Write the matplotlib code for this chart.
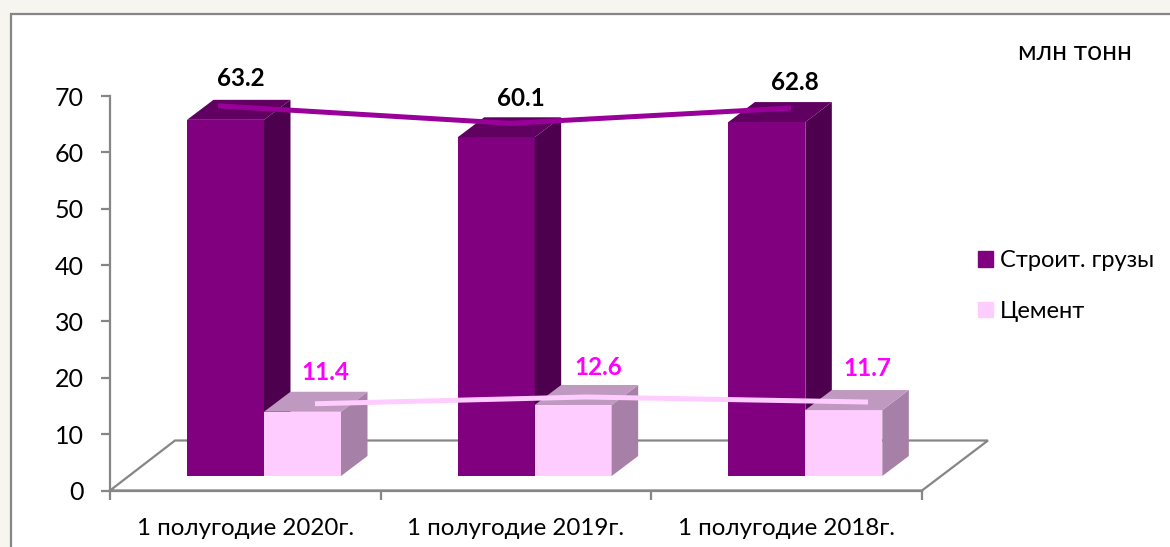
import matplotlib
matplotlib.use("Agg")
import matplotlib.pyplot as plt
from matplotlib.patches import Patch, Rectangle

plt.rcParams['font.family'] = ['Lato', 'Open Sans', 'DejaVu Sans']

categories = ["1 полугодие 2020г.", "1 полугодие 2019г.", "1 полугодие 2018г."]
series_names = ["Строит. грузы", "Цемент"]
stroit = [63.2, 60.1, 62.8]
cement = [11.4, 12.6, 11.7]
y_ticks = [0, 10, 20, 30, 40, 50, 60, 70]

W, H = 1170, 547
# axes box in pixels
left, right, top, bottom = 110, 922, 96, 490.5
px_x = 3 / (right - left)
px_y = 70 / (bottom - top)

bar_w = 77 * px_x
lift = 14.5 * px_y      # bars stand on the floor, a bit above the axis
dx, dy = 26.5 * px_x, 20 * px_y

fig = plt.figure(figsize=(W / 100, H / 100), dpi=100, facecolor="#F6F5F0")
fig.add_artist(Rectangle((11 / W, -0.02), 1.02 - 11 / W, 1.02 - 13.5 / H, transform=fig.transFigure,
                         facecolor="white", edgecolor="#868686", linewidth=1.6, zorder=-1))

ax = fig.add_axes([left / W, 1 - bottom / H, (right - left) / W, (bottom - top) / H])
ax.set_xlim(0, 3)
ax.set_ylim(0, 70)
ax.patch.set_alpha(0)
for s in ["top", "right"]:
    ax.spines[s].set_visible(False)
for s in ["left", "bottom"]:
    ax.spines[s].set_color("#868686")
    ax.spines[s].set_linewidth(1.6)

ax.set_yticks(y_ticks)
ax.set_xticks([0, 1, 2, 3])
ax.set_xticklabels([])
ax.set_xticks([0.5, 1.5, 2.5], minor=True)
ax.set_xticklabels(categories, minor=True)
ax.tick_params(axis="y", length=6.5, width=1.6, color="#868686", labelsize=18, pad=12.5)
ax.tick_params(axis="x", which="major", length=6.5, width=1.6, color="#868686")
ax.tick_params(axis="x", which="minor", length=0, labelsize=17.4, pad=19.5)

# floor
floor_w = 65 * px_x
floor_h = 50 * px_y
ax.plot([0, floor_w, 3 + floor_w + 1 * px_x, 3, 0], [0, floor_h, floor_h, 0, 0],
        color="#868686", lw=1.6, clip_on=False, zorder=1, solid_joinstyle="miter")


def draw_bars(values, offset, front, side, roof):
    for i, v in enumerate(values):
        x0 = i + offset
        x1 = x0 + bar_w
        y1 = lift + v
        ax.bar(x0, v, bar_w, bottom=lift, align="edge", color=front, zorder=2, clip_on=False)
        ax.fill([x1, x1 + dx, x1 + dx, x1], [lift, lift + dy, y1 + dy, y1], color=side, lw=0, zorder=2, clip_on=False)
        ax.fill([x0, x0 + dx, x1 + dx, x1], [y1, y1 + dy, y1 + dy, y1], color=roof, lw=0, zorder=2, clip_on=False)


draw_bars(stroit, bar_w, "#800080", "#4D004D", "#600060")
draw_bars(cement, 2 * bar_w, "#FFCCFF", "#A680A6", "#BF99BF")

# lines sit at uneven places over the bars in the original
line1_x = [(218 - left) * px_x, (510 - left) * px_x, (791 - left) * px_x]
line2_x = [(315 - left) * px_x, (586 - left) * px_x, (868 - left) * px_x]
line1_y = [lift + v + 14 * px_y for v in stroit]
line2_y = [lift + v + 8 * px_y for v in cement]
ax.plot(line1_x, line1_y, color="#990099", lw=3.6, zorder=3, clip_on=False, solid_capstyle="butt")
ax.plot(line2_x, line2_y, color="#FFCCFF", lw=3.6, zorder=3, clip_on=False, solid_capstyle="butt")

offs1 = [(23, 27), (11, 25), (4, 26)]
offs2 = [(10, 31), (12, 29), (-1, 34)]
for x, y, v, o in zip(line1_x, line1_y, stroit, offs1):
    ax.annotate(f"{v}", (x, y), xytext=o, textcoords="offset pixels", ha="center", va="center",
                fontsize=17.5, fontweight="bold", color="black", annotation_clip=False)
for x, y, v, o in zip(line2_x, line2_y, cement, offs2):
    ax.annotate(f"{v}", (x, y), xytext=o, textcoords="offset pixels", ha="center", va="center",
                fontsize=17.5, fontweight="bold", color="#FF00FF", annotation_clip=False)

fig.text(1075 / W, 1 - 53 / H, "млн тонн", ha="center", va="center", fontsize=19)

handles = [Patch(color="#800080"), Patch(color="#FFCCFF")]
fig.legend(handles, series_names, loc="upper left", bbox_to_anchor=(957 / W, 1 - 229 / H), frameon=False,
           fontsize=17, handlelength=0.62, handleheight=0.62, handletextpad=0.28, labelspacing=1.26)

fig.savefig("out.png", dpi=100, facecolor=fig.get_facecolor())
